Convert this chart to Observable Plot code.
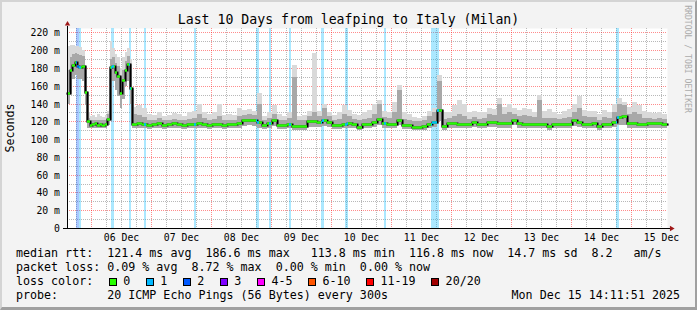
<!DOCTYPE html>
<html><head><meta charset="utf-8">
<script src="https://cdn.jsdelivr.net/npm/d3@7"></script>
<script src="https://cdn.jsdelivr.net/npm/@observablehq/plot@0.6"></script>
<style>
html,body{margin:0;padding:0;background:#f3f3f3;}
#frame{position:relative;width:697px;height:310px;background:#f3f3f3;overflow:hidden;font-family:"DejaVu Sans Mono",monospace;color:#000;}
#border{position:absolute;left:0;top:0;width:697px;height:310px;box-sizing:border-box;border-top:2px solid #d4d4d4;border-left:2px solid #d4d4d4;border-right:2px solid #a0a0a0;border-bottom:3px solid #a0a0a0;pointer-events:none;}
.t{position:absolute;white-space:pre;line-height:1;}
.leg{font-size:11.66px;}
#chart{position:absolute;left:0;top:0;}
.box{position:absolute;width:6px;height:6px;border:1px solid #000;}
</style>
</head><body>
<div id="frame">
  <div id="chart"></div>
  <div class="t" id="title" style="left:0;width:697px;text-align:center;top:12.8px;font-size:13.2px;">Last 10 Days from leafping to Italy (Milan)</div>
  <div class="t" style="left:11px;top:127.5px;font-size:11.66px;transform:translate(-50%,-50%) rotate(-90deg);">Seconds</div>
  <div class="t" style="left:687.5px;top:59px;font-size:8.15px;color:#ababab;transform:translate(-50%,-50%) rotate(90deg);">RRDTOOL / TOBI OETIKER</div>
  <div class="t leg" id="l1" style="left:16px;top:248.1px;"></div>
  <div class="t leg" id="l2" style="left:16px;top:262.1px;"></div>
  <div class="t leg" id="l3" style="left:16px;top:276.1px;">loss color:</div>
  <div class="t leg" id="l4" style="left:16px;top:290.1px;"></div>
  <div class="t leg" id="l5" style="right:17px;top:290.1px;"></div>
  <div id="border"></div>
</div>
<script>
// ---- data ----
const hours = [0,1,2,3,4,5,6,7,8,9,10,11,12,13,14,15,16,17,18,19,20,21,22,23,24,25,
26,28,30,32,34,36,38,40,42,44,46,48,50,52,54,56,58,60,62,64,66,68,70,72,74,76,78,80,82,84,
86,88,90,92,94,96,98,100,102,104,106,108,110,112,114,116,118,120,122,124,126,128,130,132,134,136,
138,140,142,144,146,148,150,152,154,156,158,160,162,164,166,168,170,172,174,176,178,180,182,184,
186,188,190,192,194,196,198,200,202,204,206,208,210,212,214,216,218,220,222,224,226,228,230,232,234,236,238];
const median = [152,178,183,187,182,181,182,153,120,116,117,118,116,117,116,117,123,181,182,175,171,152,166,178,185,157,
117,118,117,116,117,118,116,117,118,117,
116,117,117,118,117,116,117,117,116,117,
117,118,121.5,122,121,119,115.5,118,121.5,116,
116,117,114.5,114.5,115,120,120,119.8,121.5,119.8,
116,116,117,118,117.5,114,117.5,117.5,119.8,123,
118.5,117.5,117.5,122,116,116,114,114,115,117.5,
119.8,133,115,118.5,118.5,117.5,117.5,117.5,119.8,117,
117,119.8,119.8,118.5,118.5,118.5,122,118.5,117.5,117.5,
117.5,117,117,115,117.5,117.5,117,117,121,119,
117.5,117.5,118.5,115,117.5,117.5,119.8,124.7,126,118.5,
118.5,117.5,117.5,118.5,118.5,118.5,117];
const smokeLo = [140,160,168,172,168,168,165,138,113,112,112,113,112,112,112,113,116,168,165,155,148,135,145,160,165,140,
112,113,112,111,112,113,111,112,113,112,
111,112,112,113,112,111,112,112,111,112,
112,113,115,116,115,113,111,112,115,111,
111,112,110,110,110,114,114,114,115,114,
111,111,112,112,112,110,112,112,114,116,
113,112,112,116,111,111,110,110,110,112,
114,120,110,113,113,112,112,112,114,112,
112,114,114,113,113,113,116,113,112,112,
112,112,112,110,112,112,112,112,115,114,
112,112,113,110,112,112,114,116,116,113,
113,112,112,113,113,113,112];
const smokeHi = [178,192,196,197,196,195,193,165,124,121,122,122,121,122,121,122,128,190,192,186,182,168,178,188,193,172,
128,127,125,122,122,124,121,122,123,122,
121,123,124,128,124,122,123,126,121,122,
122,126,127,128,127,140,121,124,128,122,
121,124,170,121,122,126,130,126,135,126,
122,123,128,126,123,121,123,124,128,140,
125,124,130,155,123,122,120,120,121,126,
130,165,123,124,126,128,126,123,125,123,
124,128,127,140,128,130,128,126,127,126,
125,144,124,124,124,123,124,125,130,135,
126,125,125,122,125,124,130,140,138,128,
130,128,124,124,123,124,123];
const smokeMax = [205,206,206,205,205,204,200,178,130,126,127,125,128,126,125,127,132,210,202,196,192,180,192,198,202,190,
136,138,135,128,127,130,126,127,129,128,
126,130,132,140,130,128,131,140,127,128,
127,135,133,134,132,152,126,130,138,128,
126,130,183,126,127,132,197,132,140,130,
127,130,138,133,128,127,130,133,140,144,
132,130,142,161,130,128,125,124,126,132,
135,172,131,130,138,144,140,130,132,130,
131,135,134,146,136,140,135,133,135,134,
131,150,132,134,131,128,132,134,140,148,
133,132,132,128,133,131,140,146,142,136,
142,138,132,130,129,130,128];
const lossStart = [3.6,4.7,17.6,24.8,30.8,50.8,75.6,80.8,88.8,101.6,111.2,126.8,145.6,219.6];
const lossDur   = [1.1,0.9,1.2,0.9,0.9,0.9,1.1,0.8,0.9,1.2,1.1,0.9,3.2,1.2];
const lossCount = [2,1,1,1,1,1,1,1,1,1,1,1,1,1];
const lossLabels = ["0","1","2","3","4-5","6-10","11-19","20/20"];
const lossUpper  = [0,1,2,3,5,10,19,20];
const lossColors = ["#26ff00","#00b8ff","#0059ff","#7e00ff","#ff00ff","#ff5500","#ff0000","#a10000"];
const yTicks = [0,20,40,60,80,100,120,140,160,180,200,220];
const yTickLabels = ["0","20 m","40 m","60 m","80 m","100 m","120 m","140 m","160 m","180 m","200 m","220 m"];
const dayLabels = ["06 Dec","07 Dec","08 Dec","09 Dec","10 Dec","11 Dec","12 Dec","13 Dec","14 Dec","15 Dec"];
const legendLine1 = "median rtt:  121.4 ms avg  186.6 ms max   113.8 ms min  116.8 ms now  14.7 ms sd  8.2   am/s";
const legendLine2 = "packet loss: 0.09 % avg  8.72 % max  0.00 % min  0.00 % now";
const legendProbe = "probe:       20 ICMP Echo Pings (56 Bytes) every 300s";
const legendDate = "Mon Dec 15 14:11:51 2025";

// ---- build ----
const H = 3600e3;
const start = new Date(2025, 11, 5, 14, 30);
const end = new Date(+start + 240 * H);
const T = h => new Date(+start + h * H);
function lossColor(n) { for (let k = 0; k < lossUpper.length; k++) if (n <= lossUpper[k]) return lossColors[k]; return lossColors[lossColors.length - 1]; }

const rows = hours.map((h, i) => ({h, t: T(h), med: median[i], lo: smokeLo[i], hi: smokeHi[i], max: smokeMax[i]}));
const rowsExt = rows.concat([{...rows[rows.length - 1], h: 240, t: end}]);
const segs = rows.map((r, i) => ({x1: r.t, x2: rowsExt[i + 1].t, y: r.med}));
const losses = lossStart.map((s, i) => ({s, e: s + lossDur[i], x1: T(s), x2: T(s + lossDur[i]), c: lossColor(lossCount[i])}));
const lossTicks = [];
losses.forEach(ev => rows.forEach((r, i) => {
  const a = Math.max(r.h, ev.s), b = Math.min(rowsExt[i + 1].h, ev.e);
  if (b > a) lossTicks.push({x1: T(a), x2: T(b), y: r.med, c: ev.c});
}));
const sixHours = d3.timeHour.every(6).range(start, end);
const minorX = sixHours.filter(d => d.getHours() !== 0);
const majorX = sixHours.filter(d => d.getHours() === 0);
const noonTicks = majorX.map(d => new Date(+d + 12 * H));
const yMajor = yTicks.filter(v => v > 0);
const yMinor = yTicks.slice(0, -1).map((v, i) => (v + yTicks[i + 1]) / 2);

const chart = Plot.plot({
  width: 697, height: 250,
  marginLeft: 67, marginRight: 30, marginTop: 28, marginBottom: 22,
  x: {type: "time", domain: [start, end], round: true},
  y: {domain: [0, 225], round: true},
  color: {type: "identity"},
  style: {background: "transparent", fontFamily: "DejaVu Sans Mono", fontSize: "9.8px", color: "#000", overflow: "visible"},
  marks: [
    Plot.frame({fill: "#ffffff", stroke: "none"}),
    Plot.ruleY(yMinor, {stroke: "#b8b8b8", strokeDasharray: "1,1"}),
    Plot.ruleX(minorX, {stroke: "#b8b8b8", strokeDasharray: "1,1"}),
    Plot.ruleY(yMajor, {stroke: "#ff0000", strokeOpacity: 0.45, strokeDasharray: "1,1"}),
    Plot.ruleX(majorX, {stroke: "#ff0000", strokeOpacity: 0.45, strokeDasharray: "1,1"}),
    Plot.rect(losses, {x1: "x1", x2: "x2", fill: "c", fillOpacity: 0.33}),
    Plot.areaY(rowsExt, {x: "t", y1: "lo", y2: "max", curve: "step-after", fill: "#d9d9d9"}),
    Plot.areaY(rowsExt, {x: "t", y1: "lo", y2: "hi", curve: "step-after", fill: "#a8a8a8"}),
    Plot.line(rowsExt, {x: "t", y: "med", curve: "step-after", stroke: "#5a5a5a", strokeWidth: 3}),
    Plot.line(rowsExt, {x: "t", y: "med", curve: "step-after", stroke: "#000", strokeWidth: 1.2}),
    Plot.ruleY(segs, {x1: "x1", x2: "x2", y: "y", stroke: "#26ff00", strokeWidth: 2.4}),
    Plot.ruleY(lossTicks, {x1: "x1", x2: "x2", y: "y", stroke: "c", strokeWidth: 2.4}),
    Plot.ruleY([0], {stroke: "#000", insetLeft: -4, insetRight: -3}),
    Plot.ruleX([start], {stroke: "#000", insetTop: -2}),
    Plot.dot([end], {x: d => d, y: () => 0, symbol: "triangle", rotate: 90, r: 2, fill: "#a01818", stroke: "none", dx: 4}),
    Plot.dot([start], {x: d => d, y: () => 225, symbol: "triangle", r: 2, fill: "#a01818", stroke: "none", dy: -4.5}),
    Plot.axisY({ticks: yTicks, tickFormat: d => yTickLabels[yTicks.indexOf(d)], tickSize: 0, tickPadding: 7.5, label: null}),
    Plot.axisX({ticks: noonTicks, tickFormat: d => dayLabels[noonTicks.findIndex(n => +n === +d)], tickSize: 0, tickPadding: 6, label: null})
  ]
});
document.getElementById("chart").appendChild(chart);

// ---- legend ----
document.getElementById("l1").textContent = legendLine1;
document.getElementById("l2").textContent = legendLine2;
document.getElementById("l4").textContent = legendProbe;
document.getElementById("l5").textContent = legendDate;
const frame = document.getElementById("frame");
let bx = 108.7;
lossLabels.forEach((lab, i) => {
  const b = document.createElement("div");
  b.className = "box";
  b.style.left = bx + "px"; b.style.top = "278px"; b.style.background = lossColors[i];
  frame.insertBefore(b, document.getElementById("border"));
  const t = document.createElement("div");
  t.className = "t leg"; t.textContent = lab;
  t.style.left = (bx + 14.6) + "px"; t.style.top = "276.1px";
  frame.insertBefore(t, document.getElementById("border"));
  bx += 14.6 + 7.02 * lab.length + 15.4;
});
</script>
</body></html>
